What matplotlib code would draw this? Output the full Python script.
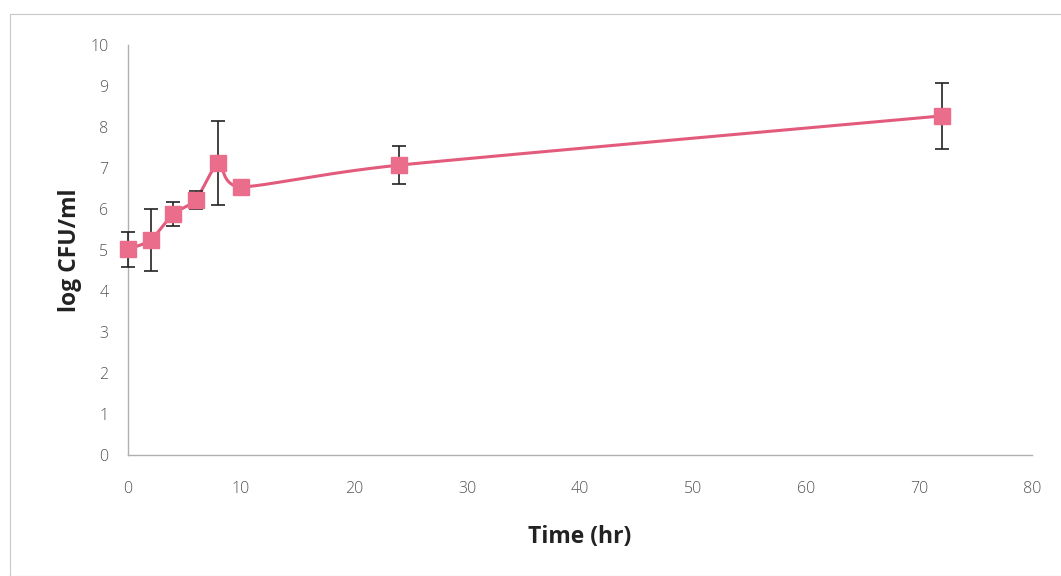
import numpy as np
import matplotlib
matplotlib.use("Agg")
import matplotlib.pyplot as plt
from matplotlib.patches import Rectangle

time_hr = [0, 2, 4, 6, 8, 10, 24, 72]
log_cfu = [5.02, 5.24, 5.88, 6.22, 7.12, 6.54, 7.07, 8.27]
err = [0.43, 0.75, 0.30, 0.22, 1.03, 0.0, 0.46, 0.80]
x_ticks = [0, 10, 20, 30, 40, 50, 60, 70, 80]
y_ticks = list(range(0, 11))

def smooth(xs, ys, n=40, t=0.11):
    # Bezier smoothing of the connecting line (like Excel's smoothed line)
    xs = np.asarray(xs, float); ys = np.asarray(ys, float)
    px, py = [], []
    for i in range(len(xs) - 1):
        p0 = (xs[i-1], ys[i-1]) if i > 0 else (xs[i], ys[i])
        p1 = (xs[i], ys[i]); p2 = (xs[i+1], ys[i+1])
        p3 = (xs[i+2], ys[i+2]) if i + 2 < len(xs) else p2
        c1 = (p1[0] + (p2[0]-p0[0])*t, p1[1] + (p2[1]-p0[1])*t)
        c2 = (p2[0] - (p3[0]-p1[0])*t, p2[1] - (p3[1]-p1[1])*t)
        s = np.linspace(0, 1, n)
        bx = (1-s)**3*p1[0] + 3*(1-s)**2*s*c1[0] + 3*(1-s)*s**2*c2[0] + s**3*p2[0]
        by = (1-s)**3*p1[1] + 3*(1-s)**2*s*c1[1] + 3*(1-s)*s**2*c2[1] + s**3*p2[1]
        px.extend(bx); py.extend(by)
    return px, py

fig = plt.figure(figsize=(10.61, 5.76), dpi=100)
fig.patches.append(Rectangle((10/1061, 0), 1.2, (576-14)/576, transform=fig.transFigure,
                             fill=False, edgecolor="#c8c8c8", linewidth=0.8))
ax = fig.add_axes([128/1061, 121/576, 904/1061, 410/576])

line_c = "#e35b7c"
sx, sy = smooth(time_hr, log_cfu)
ax.plot(sx, sy, color=line_c, linewidth=2.2, zorder=2, clip_on=False)
eb = ax.errorbar(time_hr, log_cfu, yerr=err, fmt="none", ecolor="#222222", elinewidth=1.2,
                 capsize=5, capthick=1.2, zorder=3)
for art in eb.lines[1] + tuple(eb.lines[2]):
    art.set_clip_on(False)
ax.plot(time_hr, log_cfu, linestyle="none", marker="s", markersize=11.5,
        markerfacecolor="#ea6d8c", markeredgecolor="#ea6d8c", zorder=4, clip_on=False)

ax.set_xlim(0, 80)
ax.set_ylim(0, 10)
ax.set_xticks(x_ticks)
ax.set_yticks(y_ticks)
for s in ["top", "right"]:
    ax.spines[s].set_visible(False)
for s in ["left", "bottom"]:
    ax.spines[s].set_color("#b0b0b0")
    ax.spines[s].set_linewidth(1.0)
ax.tick_params(length=0, labelsize=11.5, labelcolor="#555555", pad=14)
ax.tick_params(axis="x", pad=19)
for lab in ax.get_xticklabels() + ax.get_yticklabels():
    lab.set_fontfamily("Open Sans")
    lab.set_fontweight("light")

ax.set_ylabel("log CFU/ml", fontsize=16.5, fontweight="bold", family="Open Sans",
              color="#222222", labelpad=6)
ax.set_xlabel("Time (hr)", fontsize=16.5, fontweight="bold", family="Open Sans",
              color="#222222", labelpad=20)

fig.savefig("out.png", dpi=100)
